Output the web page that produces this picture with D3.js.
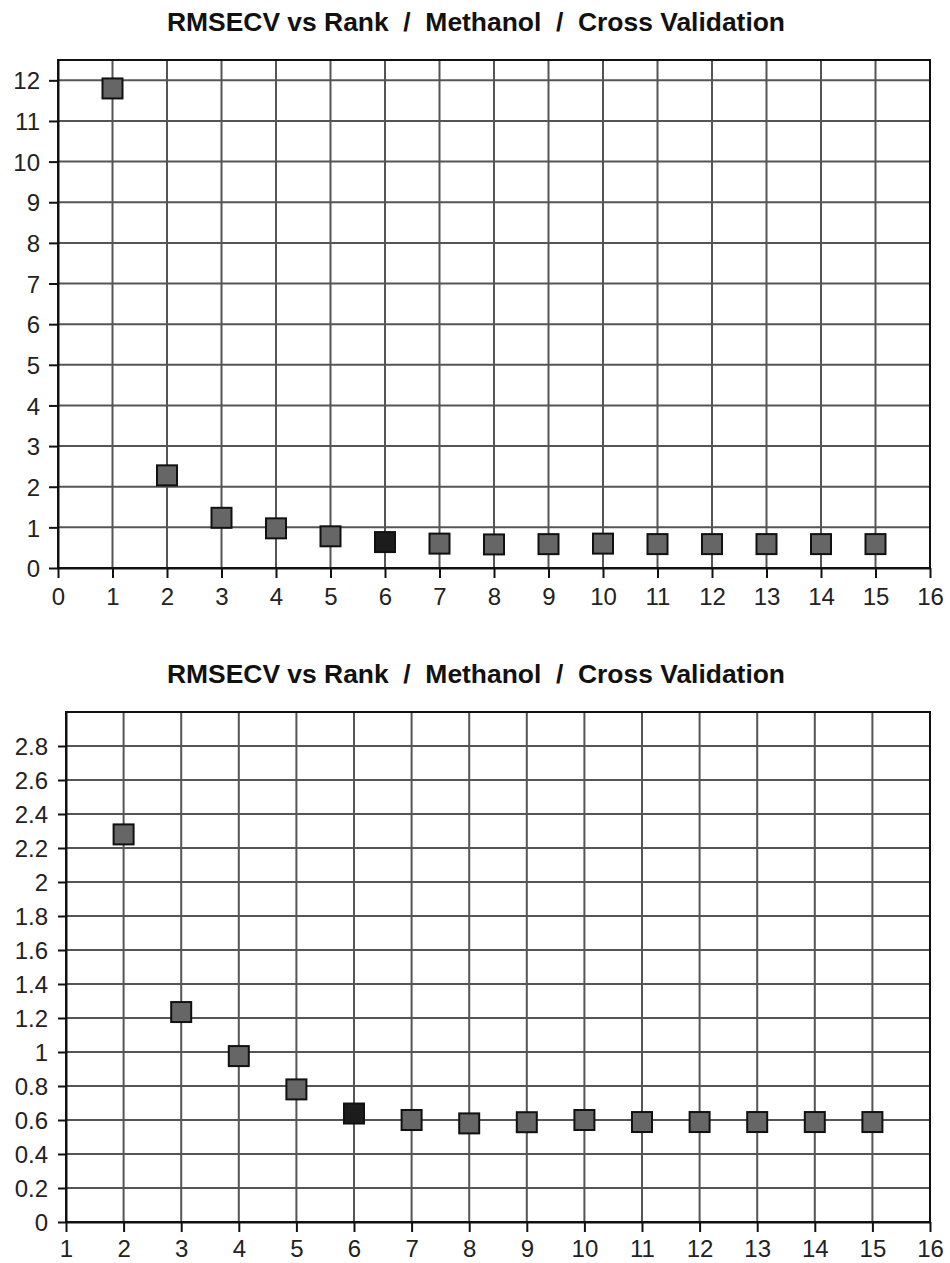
<!DOCTYPE html>
<html>
<head>
<meta charset="utf-8">
<script src="https://cdn.jsdelivr.net/npm/d3@7"></script>
<style>
  html, body { margin: 0; padding: 0; background: #fff; }
  svg { display: block; }
  .title { white-space: pre; }
</style>
</head>
<body>
<svg id="chart" width="950" height="1263"></svg>
<script>
// ---- data ----
const titleText = "RMSECV vs Rank  /  Methanol  /  Cross Validation";
const ranks = [1, 2, 3, 4, 5, 6, 7, 8, 9, 10, 11, 12, 13, 14, 15];
const rmsecv = [11.8, 2.28, 1.235, 0.976, 0.78, 0.638, 0.60, 0.58, 0.587, 0.60, 0.588, 0.588, 0.588, 0.588, 0.588];
const selectedRank = 6;

const chart1XTicks = d3.range(0, 17, 1);           // 0..16
const chart1YTicks = d3.range(0, 13, 1);           // 0..12
const chart2XTicks = d3.range(1, 17, 1);           // 1..16
const chart2YTicks = [0, 0.2, 0.4, 0.6, 0.8, 1, 1.2, 1.4, 1.6, 1.8, 2, 2.2, 2.4, 2.6, 2.8];

const points = ranks.map((r, i) => ({ rank: r, value: rmsecv[i] }));

const svg = d3.select("#chart");
const FONT = "'Liberation Sans', Arial, sans-serif";

function drawPanel(cfg) {
  const g = svg.append("g");
  const x = d3.scaleLinear().domain(cfg.xDomain).range([cfg.left, cfg.right]);
  const y = d3.scaleLinear().domain(cfg.yDomain).range([cfg.bottom, cfg.top]);

  // title
  g.append("text")
    .attr("class", "title")
    .attr("xml:space", "preserve")
    .attr("x", 476).attr("y", cfg.titleY)
    .attr("text-anchor", "middle")
    .attr("font-family", FONT)
    .attr("font-weight", "bold")
    .attr("font-size", 25)
    .attr("fill", "#111")
    .attr("textLength", 618)
    .attr("lengthAdjust", "spacingAndGlyphs")
    .text(titleText);

  // gridlines
  const gx = cfg.xTicks.filter(v => v > cfg.xDomain[0] && v < cfg.xDomain[1]);
  const gy = cfg.yTicks.filter(v => v > cfg.yDomain[0] && v < cfg.yDomain[1]);
  g.append("g").selectAll("line").data(gx).join("line")
    .attr("x1", d => x(d)).attr("x2", d => x(d))
    .attr("y1", cfg.top).attr("y2", cfg.bottom)
    .attr("stroke", "#555").attr("stroke-width", 2);
  g.append("g").selectAll("line").data(gy).join("line")
    .attr("y1", d => y(d)).attr("y2", d => y(d))
    .attr("x1", cfg.left).attr("x2", cfg.right)
    .attr("stroke", "#555").attr("stroke-width", 2);

  // border
  g.append("rect")
    .attr("x", cfg.left).attr("y", cfg.top)
    .attr("width", cfg.right - cfg.left).attr("height", cfg.bottom - cfg.top)
    .attr("fill", "none").attr("stroke", "#111").attr("stroke-width", 2);

  // axes
  const xAxis = d3.axisBottom(x).tickValues(cfg.xTicks).tickSize(10).tickSizeOuter(0)
    .tickFormat(d3.format("d"));
  const xa = g.append("g").attr("transform", `translate(0,${cfg.bottom})`).call(xAxis);
  xa.select(".domain").attr("stroke", "#111").attr("stroke-width", 2);
  xa.selectAll(".tick line").attr("stroke", "#111").attr("stroke-width", 2);
  xa.selectAll(".tick text")
    .attr("font-family", FONT).attr("font-size", 24).attr("fill", "#222")
    .attr("y", cfg.xLabelDy).attr("dy", 0);

  const yAxis = d3.axisLeft(y).tickValues(cfg.yTicks).tickSize(cfg.yTickSize).tickSizeOuter(0)
    .tickFormat(d => String(+d.toFixed(1)));
  const ya = g.append("g").attr("transform", `translate(${cfg.left},0)`).call(yAxis);
  ya.select(".domain").attr("stroke", "#111").attr("stroke-width", 2);
  ya.selectAll(".tick line").attr("stroke", "#111").attr("stroke-width", 2);
  ya.selectAll(".tick text")
    .attr("font-family", FONT).attr("font-size", 24).attr("fill", "#222")
    .attr("x", -cfg.yLabelGap).attr("dy", "0.36em");

  // markers
  const vis = points.filter(p => p.rank >= cfg.xDomain[0] && p.rank <= cfg.xDomain[1]
                               && p.value >= cfg.yDomain[0] && p.value <= cfg.yDomain[1]);
  const s = 20;
  g.append("g").selectAll("rect").data(vis).join("rect")
    .attr("x", d => x(d.rank) - s / 2)
    .attr("y", d => y(d.value) - s / 2)
    .attr("width", s).attr("height", s)
    .attr("fill", d => d.rank === selectedRank ? "#1c1c1c" : "#666")
    .attr("stroke", "#111").attr("stroke-width", 2);
}

drawPanel({
  xDomain: [0, 16], yDomain: [0, 12.5],
  left: 58, right: 930, top: 60, bottom: 568,
  xTicks: chart1XTicks, yTicks: chart1YTicks,
  titleY: 31, xLabelDy: 37, yTickSize: 9, yLabelGap: 18
});

drawPanel({
  xDomain: [1, 16], yDomain: [0, 3],
  left: 66, right: 930, top: 712, bottom: 1222,
  xTicks: chart2XTicks, yTicks: chart2YTicks,
  titleY: 683, xLabelDy: 35, yTickSize: 8, yLabelGap: 18
});
</script>
</body>
</html>
